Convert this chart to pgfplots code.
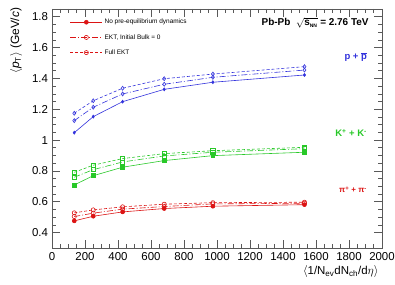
\documentclass[border=0pt]{standalone}
\usepackage{pgfplots}
\pgfplotsset{compat=1.18}
\usepackage{fontspec}
\setmainfont{Liberation Sans}
\definecolor{cred}{RGB}{220,20,20}
\definecolor{cgreen}{RGB}{40,200,40}
\definecolor{cblue}{RGB}{50,50,220}
\begin{document}
\begin{tikzpicture}
\begin{axis}[
  name=ax,
  scale only axis,
  width=330bp, height=239bp,
  xmin=0, xmax=2000, ymin=0.3, ymax=1.85,
  xtick={0,200,...,2000},
  ytick={0.4,0.6,0.8,1,1.2,1.4,1.6,1.8},
  minor x tick num=3, minor y tick num=3,
  tick align=inside,
  major tick length=8bp, minor tick length=4bp,
  axis line style={black!65, line width=0.8pt},
  every tick/.style={black!65, line width=0.6pt},
  /pgf/number format/assume math mode=true,
  /pgf/number format/1000 sep={},
  tick label style={font=\fontsize{11.5}{13}\selectfont},
  xticklabel style={yshift=-0.5bp},
  yticklabel style={xshift=-0.5bp},
  ylabel={$\langle$\textit{p}$_{\mathrm{T}}\rangle$ (GeV/\textit{c})},
  ylabel style={font=\fontsize{12}{14}\selectfont, at={(axis description cs:-0.08,1.02)}, anchor=south east},
  xlabel={$\langle$1/N\textsubscript{ev}dN\textsubscript{ch}/d$\eta\rangle$},
  xlabel style={font=\fontsize{11.5}{13}\selectfont, at={(axis description cs:1,-0.06)}, anchor=north east},
  legend style={at={(axis description cs:0.045,0.975)}, anchor=north west, draw=none, fill=none,
    font=\fontsize{6.5}{8}\selectfont, row sep=5bp, cells={anchor=west}},
  legend image code/.code={\draw[mark repeat=2,mark phase=2] plot coordinates {(0bp,0bp) (16bp,0bp) (32bp,0bp)};},
  every axis plot/.append style={line width=0.6pt},
]
\coordinate (bl) at (rel axis cs:0,0);
\coordinate (tr) at (rel axis cs:1,1);
% pions
\addplot[cred, mark=*, mark size=2pt] coordinates {(135,0.476)(250,0.506)(428,0.534)(680,0.556)(975,0.571)(1530,0.581)};
\addlegendentry{No pre-equilibrium dynamics}
\addplot[cred, dash pattern=on 6bp off 2bp on 1bp off 2bp, mark=o, mark size=2.1pt, mark options={solid}] coordinates {(135,0.504)(250,0.526)(428,0.552)(680,0.569)(975,0.586)(1530,0.590)};
\addlegendentry{EKT, Initial Bulk = 0}
\addplot[cred, dash pattern=on 3bp off 2bp, mark=o, mark size=2.1pt, mark options={solid}] coordinates {(135,0.528)(250,0.547)(428,0.567)(680,0.584)(975,0.594)(1530,0.597)};
\addlegendentry{Full EKT}
% kaons
\addplot[cgreen, mark=square*, mark size=1.9pt, forget plot] coordinates {(135,0.709)(250,0.769)(428,0.824)(680,0.867)(975,0.899)(1530,0.921)};
\addplot[cgreen, dash pattern=on 6bp off 2bp on 1bp off 2bp, mark=square, mark size=2.1pt, mark options={solid}, forget plot] coordinates {(135,0.759)(250,0.808)(428,0.858)(680,0.897)(975,0.921)(1530,0.944)};
\addplot[cgreen, dash pattern=on 3bp off 2bp, mark=square, mark size=2.1pt, mark options={solid}, forget plot] coordinates {(135,0.791)(250,0.837)(428,0.880)(680,0.912)(975,0.931)(1530,0.953)};
% protons
\addplot[cblue, mark=diamond*, mark size=1.5pt, forget plot] coordinates {(135,1.048)(250,1.152)(428,1.249)(680,1.329)(975,1.375)(1530,1.422)};
\addplot[cblue, dash pattern=on 6bp off 2bp on 1bp off 2bp, mark=diamond, mark size=2pt, mark options={solid}, forget plot] coordinates {(135,1.126)(250,1.213)(428,1.299)(680,1.362)(975,1.407)(1530,1.454)};
\addplot[cblue, dash pattern=on 3bp off 2bp, mark=diamond, mark size=2pt, mark options={solid}, forget plot] coordinates {(135,1.174)(250,1.255)(428,1.336)(680,1.398)(975,1.428)(1530,1.476)};
% annotations
\node[anchor=east, font=\fontsize{10}{12}\selectfont\bfseries] at (axis cs:1940,1.759) {Pb-Pb\ \ $\sqrt{\mbox{\bfseries s}_{\mbox{\tiny\bfseries NN}}}$ = 2.76 TeV};
\node[anchor=east, text=cblue, font=\fontsize{9.5}{11}\selectfont\bfseries] at (axis cs:1930,1.539) {p + $\overline{\mbox{\bfseries p}}$};
\node[anchor=east, text=cgreen, font=\fontsize{9.5}{11}\selectfont\bfseries] at (axis cs:1930,1.046) {K\textsuperscript{+} + K\textsuperscript{-}};
\node[anchor=east, text=cred, font=\fontsize{8}{10}\selectfont\bfseries] at (axis cs:1930,0.677) {π\textsuperscript{+} + π\textsuperscript{-}};
\end{axis}
\pgfresetboundingbox
\path ([shift={(-52bp,-37bp)}]bl) rectangle ([shift={(13bp,9bp)}]tr);
\end{tikzpicture}
\end{document}
